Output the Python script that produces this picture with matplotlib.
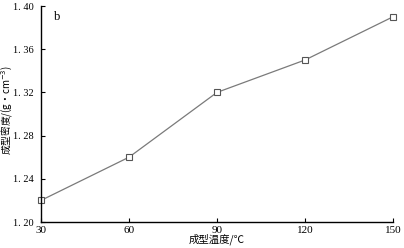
import matplotlib.pyplot as plt

temps = [30, 60, 90, 120, 150]
density = [1.22, 1.26, 1.32, 1.35, 1.39]
xticks = [30, 60, 90, 120, 150]
yticks = [1.20, 1.24, 1.28, 1.32, 1.36, 1.40]

plt.rcParams['font.family'] = ['Liberation Serif', 'Noto Sans CJK SC', 'DejaVu Sans']

fig = plt.figure(figsize=(4.04, 2.48), dpi=100)
ax = fig.add_axes([41/404, 1-222/248, (393-41)/404, (222-6)/248])

ax.plot(temps, density, color='#7a7a7a', lw=0.9, marker='s', ms=4.5,
        mfc='white', mec='#555555', mew=0.8, clip_on=False)

ax.set_xlim(30, 150)
ax.set_ylim(1.20, 1.40)
ax.set_xticks(xticks)
ax.set_yticks(yticks)
ax.set_yticklabels([f'{v:.2f}'.replace('.', '. ') for v in yticks])
ax.tick_params(direction='in', length=3, width=0.8, labelsize=8, pad=3)
ax.tick_params(axis='y', pad=5, labelsize=7.5)
for s in ['top', 'right']:
    ax.spines[s].set_visible(False)
for s in ['left', 'bottom']:
    ax.spines[s].set_linewidth(1.0)

ax.set_xlabel('成型温度/℃', fontsize=7.5, family=['Noto Sans CJK SC', 'DejaVu Sans'], labelpad=-1)
ax.set_ylabel('成型密度/(g·cm$^{-3}$)', fontsize=7, family=['Noto Sans CJK SC', 'DejaVu Sans'])
ax.yaxis.set_label_coords(-26/352, 0.52)
ax.text(0.037, 0.95, 'b', transform=ax.transAxes, fontsize=9, va='center')

fig.savefig('out.png', dpi=100)
